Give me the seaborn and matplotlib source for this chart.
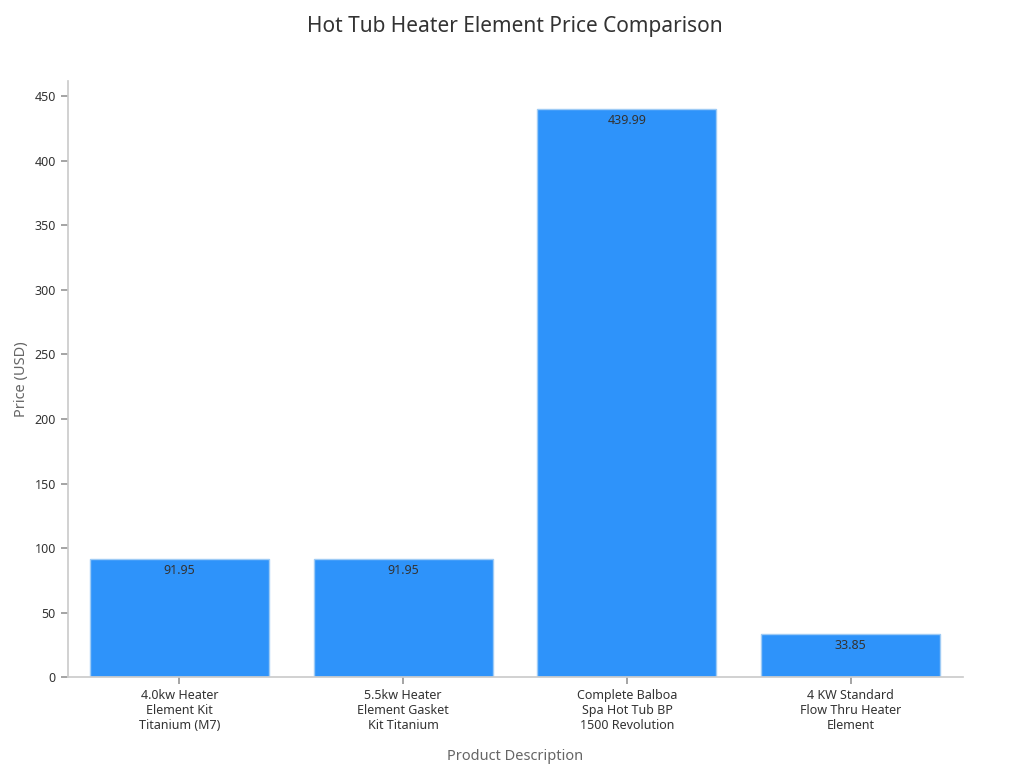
import matplotlib
matplotlib.use("Agg")
import matplotlib.pyplot as plt
import seaborn as sns
import pandas as pd

categories = ["4.0kw Heater\nElement Kit\nTitanium (M7)", "5.5kw Heater\nElement Gasket\nKit Titanium",
              "Complete Balboa\nSpa Hot Tub BP\n1500 Revolution", "4 KW Standard\nFlow Thru Heater\nElement"]
prices = [91.95, 91.95, 439.99, 33.85]
labels = ["91.95", "91.95", "439.99", "33.85"]

sns.set_theme(style="white")
plt.rcParams['font.family'] = ['Noto Sans', 'DejaVu Sans']
df = pd.DataFrame({"cat": categories, "price": prices})
fig, ax = plt.subplots(figsize=(10.24, 7.68), dpi=100)
sns.barplot(data=df, x="cat", y="price", color="#2E93FA", saturation=1, width=0.8, ax=ax,
            edgecolor="#9ECBF5", linewidth=1)
for i, (p, l) in enumerate(zip(prices, labels)):
    ax.text(i, p - 4, l, ha="center", va="top", fontsize=9, color="#333333")
ax.set_ylim(0, 462)
ax.set_yticks(range(0, 451, 50))
ax.set_title("Hot Tub Heater Element Price Comparison", fontsize=15, color="#333333", pad=35)
ax.set_xlabel("Product Description", fontsize=10.5, color="#666666", labelpad=12)
ax.set_ylabel("Price (USD)", fontsize=10.5, color="#666666")
ax.tick_params(axis="both", labelsize=9, colors="#333333", length=5, color="#999999", bottom=True, left=True)
sns.despine(ax=ax)
for s in ["left", "bottom"]:
    ax.spines[s].set_color("#cccccc")
plt.subplots_adjust(left=0.066, right=0.94, top=0.895, bottom=0.118)
fig.savefig("out.png")
